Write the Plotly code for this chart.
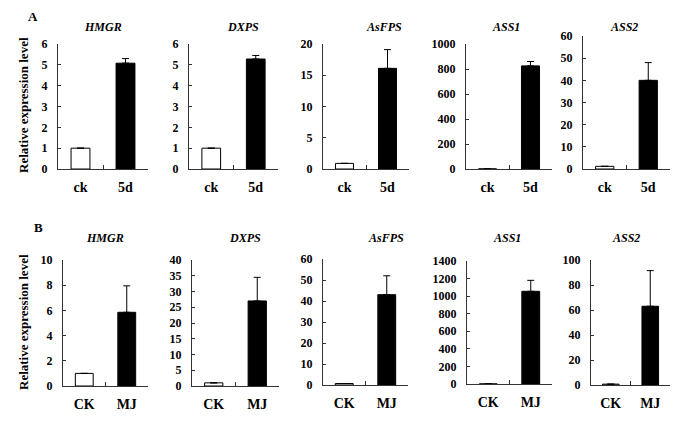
import plotly.graph_objects as go

# ---- data ----
genes = ["HMGR", "DXPS", "AsFPS", "ASS1", "ASS2"]

cats_a = ["ck", "5d"]
vals_a = [[1.0, 5.08], [1.0, 5.28], [0.9, 16.1], [1.0, 825], [1.2, 40.0]]
errs_a = [[0, 0.22], [0, 0.17], [0, 3.0], [0, 35], [0, 8.0]]
ymax_a = [6, 6, 20, 1000, 60]
dtick_a = [1, 1, 5, 200, 10]

cats_b = ["CK", "MJ"]
vals_b = [[1.0, 5.85], [1.0, 27.0], [0.7, 43.0], [1.0, 1055], [0.7, 63.0]]
errs_b = [[0, 2.1], [0, 7.5], [0, 9.0], [0, 125], [0, 28.5]]
ymax_b = [10, 40, 60, 1400, 100]
dtick_b = [2, 5, 10, 200, 20]

# ---- layout geometry (screen pixels in the 685x429 window) ----
OFF = 8  # default page body margin
W, H = 685 - OFF, 429 - OFF
xdom_a = [(58, 148), (189, 278), (323, 409), (466, 552), (583, 670)]
ydom_a = [(44, 169), (44, 169), (44, 169), (44, 169), (36, 169)]
title_x_a = [103, 243, 384, 506, 624]
xdom_b = [(63, 148), (192, 279), (323, 408), (467, 552), (591, 670)]
ydom_b = [(260, 386), (260, 386), (259, 385), (261, 384), (260, 385)]
title_x_b = [105, 245, 386, 507, 626]

FONT = "Liberation Serif"
AX = "#333333"

fig = go.Figure()
layout = dict(
    width=W, height=H, margin=dict(l=0, r=0, t=0, b=0, autoexpand=False),
    paper_bgcolor="white", plot_bgcolor="white", showlegend=False,
    font=dict(family=FONT, color="black"), template="none",
)
annotations = []

def px_x(x):
    return (x - OFF) / W

def px_y(y):
    return 1 - (y - OFF) / H

def add_row(idx0, cats, vals, errs, ymax, dticks, xdom, ydom, titles_x, title_y):
    for i in range(5):
        n = idx0 + i + 1
        suf = "" if n == 1 else str(n)
        fig.add_trace(go.Bar(
            x=cats, y=vals[i], width=0.42,
            marker=dict(color=["white", "black"], line=dict(color="black", width=1)),
            error_y=dict(type="data", array=errs[i], arrayminus=[0, 0], symmetric=False,
                         color="black", thickness=1, width=3.5),
            xaxis="x" + suf, yaxis="y" + suf,
        ))
        layout["xaxis" + suf] = dict(
            domain=[px_x(xdom[i][0]), px_x(xdom[i][1])], anchor="y" + suf,
            type="category", tickson="boundaries", ticks="inside", ticklen=4,
            tickcolor=AX, showline=True, linecolor=AX, linewidth=1,
            showgrid=False, zeroline=False, automargin=False,
            tickfont=dict(family=FONT, size=14, weight="bold", color="black"),
            ticklabelstandoff=5,
        )
        layout["yaxis" + suf] = dict(
            domain=[px_y(ydom[i][1]), px_y(ydom[i][0])], anchor="x" + suf,
            range=[0, ymax[i]], dtick=dticks[i], ticks="inside", ticklen=3,
            tickcolor=AX, showline=True, linecolor=AX, linewidth=1,
            showgrid=False, zeroline=False, automargin=False,
            tickfont=dict(family=FONT, size=12, weight="bold", color="black"),
            ticklabelstandoff=7,
        )
        annotations.append(dict(
            text="<b><i>" + genes[i] + "</i></b>", x=px_x(titles_x[i]), y=px_y(title_y),
            xref="paper", yref="paper", showarrow=False, xanchor="center", yanchor="middle",
            font=dict(family=FONT, size=12, color="black"),
        ))

add_row(0, cats_a, vals_a, errs_a, ymax_a, dtick_a, xdom_a, ydom_a, title_x_a, 27)
add_row(5, cats_b, vals_b, errs_b, ymax_b, dtick_b, xdom_b, ydom_b, title_x_b, 238)

for lab, x, y in [("A", 33, 17), ("B", 39, 228)]:
    annotations.append(dict(
        text="<b>" + lab + "</b>", x=px_x(x), y=px_y(y), xref="paper", yref="paper",
        showarrow=False, xanchor="center", yanchor="middle",
        font=dict(family=FONT, size=13, color="black"),
    ))

for y in [105, 322]:
    annotations.append(dict(
        text="<b>Relative expression level</b>", x=px_x(23), y=px_y(y),
        xref="paper", yref="paper", showarrow=False, textangle=-90,
        xanchor="center", yanchor="middle",
        font=dict(family=FONT, size=13, color="black"),
    ))

layout["annotations"] = annotations
fig.update_layout(**layout)
fig.write_html("out.html")
